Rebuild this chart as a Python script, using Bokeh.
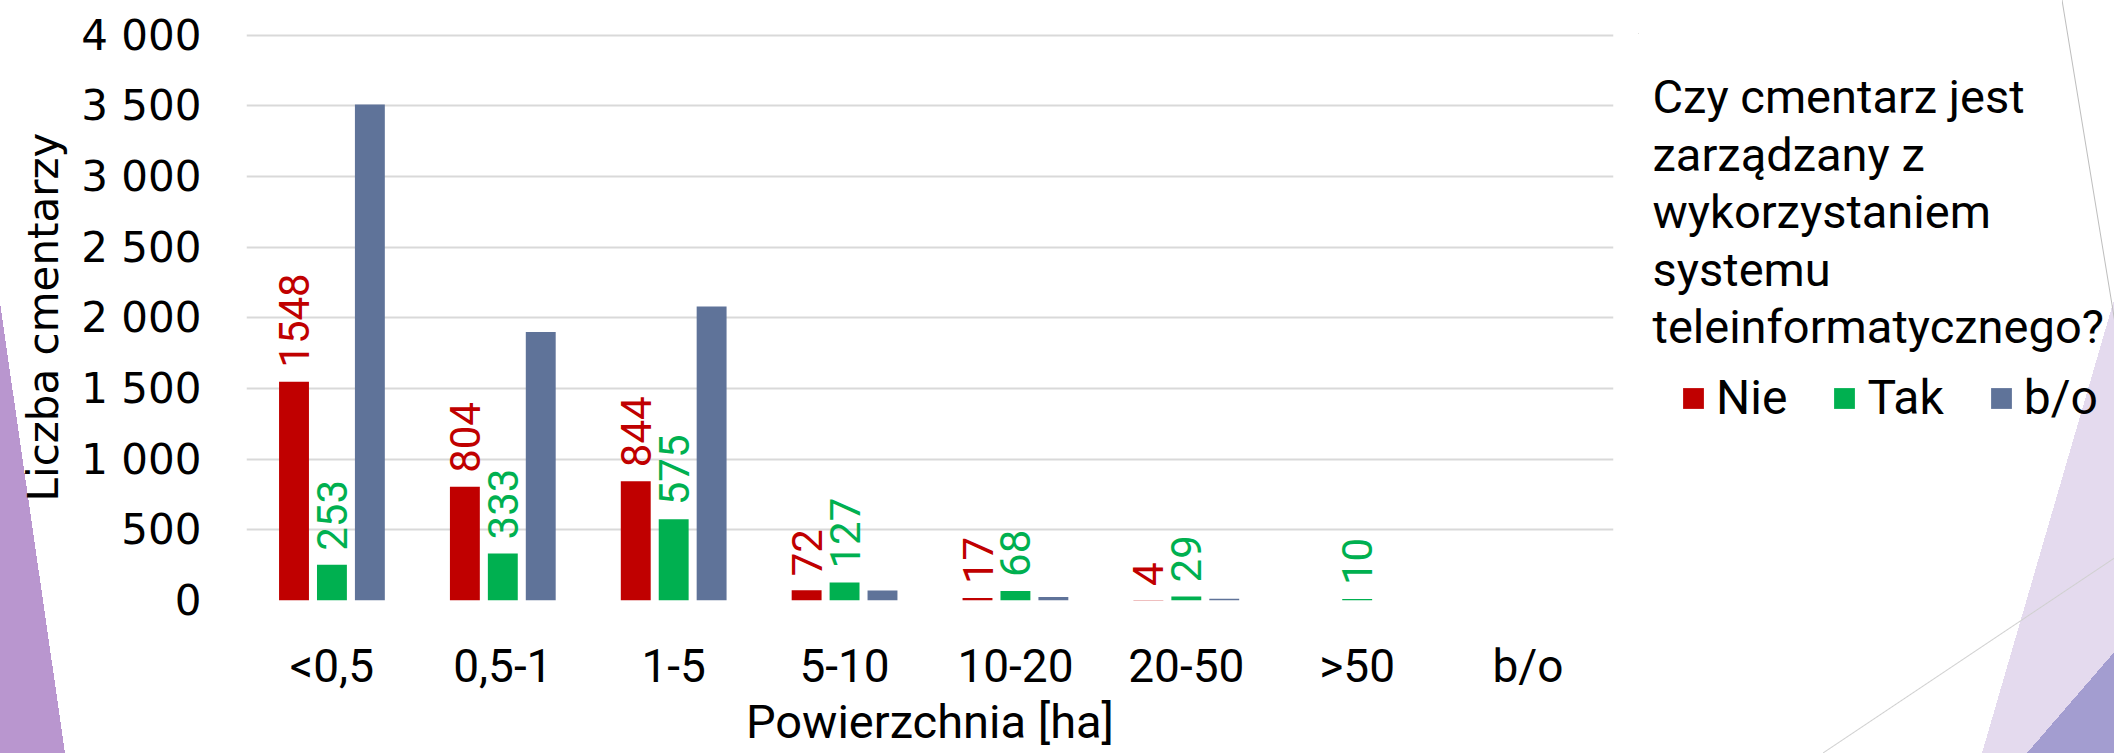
import math
from bokeh.plotting import figure
from bokeh.layouts import row
from bokeh.models import (ColumnDataSource, FactorRange, Range1d, FixedTicker,
                          Legend, LegendItem, Label, InlineStyleSheet)
from bokeh.transform import dodge
from bokeh.core.properties import value
from bokeh.embed import file_html
from bokeh.resources import INLINE

# ---------------- data ----------------
categories = ["<0,5", "0,5-1", "1-5", "5-10", "10-20", "20-50", ">50", "b/o"]
nie = [1548, 804, 844, 72, 17, 4, 0, 0]
tak = [253, 333, 575, 127, 68, 29, 10, 0]
bo = [3510, 1900, 2080, 70, 25, 12, 0, 0]
series_names = ["Nie", "Tak", "b/o"]
series_colors = ["#C00000", "#00B050", "#5F7399"]
y_ticks = [0, 500, 1000, 1500, 2000, 2500, 3000, 3500, 4000]
y_tick_labels = ["0", "500", "1 000", "1 500", "2 000", "2 500", "3 000", "3 500", "4 000"]
legend_title_lines = ["Czy cmentarz jest", "zarządzany z", "wykorzystaniem",
                      "systemu", "teleinformatycznego?"]
x_title = "Powierzchnia [ha]"
y_title = "Liczba cmentarzy"

FONT = "Roboto"
YFONT = "DejaVu Sans"
H = 753
W1 = 1638                      # main chart canvas width
W2 = 2114 - W1                 # legend panel width
FL, FR, FT, FB = 246, 1613, 33, 600   # frame edges in canvas px

# ---------------- main chart ----------------
p = figure(width=W1, height=H,
           x_range=FactorRange(factors=categories, range_padding=0),
           y_range=Range1d(0, 4012),
           output_backend="svg", toolbar_location=None,
           min_border_left=FL, min_border_right=W1 - FR,
           min_border_top=FT, min_border_bottom=H - FB)
p.outline_line_color = None
p.background_fill_color = "white"
p.border_fill_alpha = 0
# slide-template decoration (purple wedge at the left edge)
p.stylesheets = [InlineStyleSheet(css=(
    ":host { background: linear-gradient(to top right, #B996CF 50%, "
    "transparent 50%) 0 303px / 65px 450px no-repeat; }"))]

src = ColumnDataSource(dict(cat=categories, Nie=nie, Tak=tak, bo=bo))
offsets = [-0.222, 0.0, 0.222]
fields = ["Nie", "Tak", "bo"]
bar_w = 0.175
for f, off, col in zip(fields, offsets, series_colors):
    p.vbar(x=dodge("cat", off, range=p.x_range), top=f, width=bar_w,
           source=src, fill_color=col, line_color=None)

# data labels (Nie, Tak)
for vals, off, col in [(nie, offsets[0], series_colors[0]),
                       (tak, offsets[1], series_colors[1])]:
    cats = [c for c, v in zip(categories, vals) if v > 0]
    vs = [v for v in vals if v > 0]
    lsrc = ColumnDataSource(dict(cat=cats, val=vs, txt=[str(v) for v in vs]))
    p.text(x=dodge("cat", off, range=p.x_range), y="val", text="txt",
           source=lsrc, angle=math.pi / 2, text_align="left",
           text_baseline="middle", y_offset=-14, text_color=col,
           text_font=value(FONT), text_font_size="42px")

p.ygrid.ticker = FixedTicker(ticks=y_ticks)
p.yaxis.ticker = FixedTicker(ticks=y_ticks)
p.yaxis.major_label_overrides = {t: l for t, l in zip(y_ticks, y_tick_labels)}
p.xgrid.grid_line_color = None
p.ygrid.grid_line_color = "#D9D9D9"
p.ygrid.grid_line_width = 2

for ax in (p.xaxis, p.yaxis):
    ax.axis_line_color = None
    ax.major_tick_line_color = None
    ax.minor_tick_line_color = None
    ax.major_tick_out = 0
    ax.major_tick_in = 0
    ax.minor_tick_out = 0
    ax.minor_tick_in = 0
    ax.major_label_text_color = "black"
    ax.axis_label_text_font_style = "normal"
    ax.axis_label_text_color = "black"

p.yaxis.major_label_text_font = YFONT
p.yaxis.major_label_text_font_size = "42px"
p.yaxis.major_label_standoff = 45
p.yaxis.axis_label = y_title
p.yaxis.axis_label_text_font = YFONT
p.yaxis.axis_label_text_font_size = "42px"
p.yaxis.axis_label_standoff = 10

p.xaxis.major_label_text_font = FONT
p.xaxis.major_label_text_font_size = "46px"
p.xaxis.major_label_standoff = 38
p.xaxis.axis_label = x_title
p.xaxis.axis_label_text_font = FONT
p.xaxis.axis_label_text_font_size = "47px"
p.xaxis.axis_label_standoff = -2

# ---------------- legend panel (page-pixel coordinates) ----------------
X0 = W1                        # page x of the legend panel's left edge
q = figure(width=W2, height=H, x_range=Range1d(X0, X0 + W2),
           y_range=Range1d(FB, FT), x_axis_location=None,
           y_axis_location=None, output_backend="svg", toolbar_location=None,
           min_border_left=0, min_border_right=0,
           min_border_top=FT, min_border_bottom=H - FB)
q.outline_line_color = None
q.grid.grid_line_color = None
q.background_fill_alpha = 0
q.border_fill_alpha = 0
# slide-template decorations at the right edge
q.stylesheets = [InlineStyleSheet(css=(
    ":host { background:"
    " linear-gradient(to top right, transparent calc(50% - 1px), #BDBDBD 50%,"
    " transparent calc(50% + 1px)) 424px 0px / 54px 329px no-repeat,"
    " linear-gradient(to bottom right, transparent calc(50% - 1px), #D0D0D0 50%,"
    " transparent calc(50% + 1px)) 185px 557px / 293px 196px no-repeat,"
    " linear-gradient(to bottom right, transparent 50%, #A39DD0 50%)"
    " 389px 650px / 89px 103px no-repeat,"
    " linear-gradient(to bottom right, transparent 50%, #E4DAEE 50%)"
    " 344px 293px / 134px 460px no-repeat; }"))]

base_y = [96, 154, 211, 269, 326]
for line, by in zip(legend_title_lines, base_y):
    q.add_layout(Label(x=1652, y=by, text=line, text_font=FONT,
                       text_font_size="47px", text_color="black",
                       text_baseline="alphabetic", text_align="left"))

dummy = [q.vbar(x=[0], bottom=[0], top=[0], width=1, fill_color=c,
                line_color=None) for c in series_colors]
legend = Legend(items=[LegendItem(label=n, renderers=[r])
                       for n, r in zip(series_names, dummy)],
                orientation="horizontal",
                location=(1680 - X0, 174),
                glyph_width=26, glyph_height=26, label_standoff=10,
                spacing=44, padding=0, margin=0,
                label_text_font=FONT, label_text_font_size="48px",
                label_text_color="black",
                border_line_color=None, background_fill_alpha=0)
q.add_layout(legend)

layout = row(p, q, spacing=0)
open("out.html", "w").write(file_html(layout, INLINE))
